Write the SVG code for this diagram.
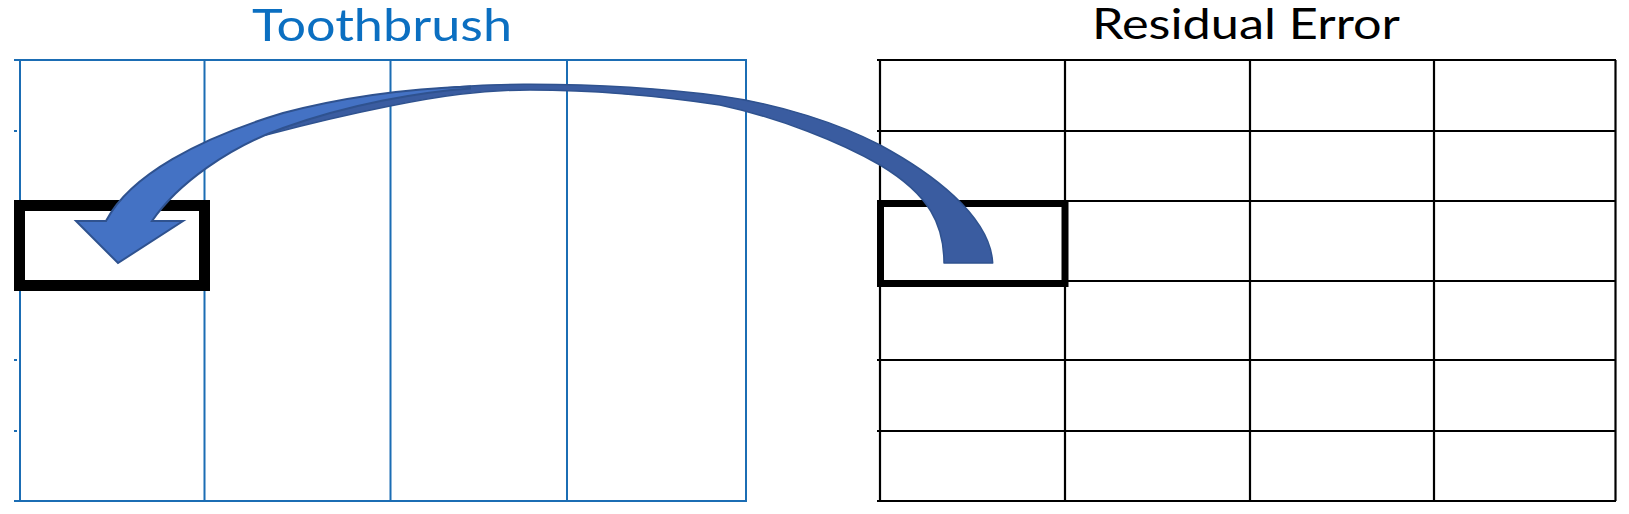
<svg xmlns="http://www.w3.org/2000/svg" width="1629" height="514" viewBox="0 0 1629 514">
  <style>
    .bl { stroke: #1B6DB4; stroke-width: 2; fill: none; }
    .bk { stroke: #000000; stroke-width: 2.2; fill: none; }
    .hl { fill: none; stroke: #000000; }
    .title { font-family: Lato, "Open Sans", "Liberation Sans", sans-serif; text-anchor: middle; }
  </style>
  <rect width="1629" height="514" fill="#ffffff"/>

  <g id="toothbrush">
    <text class="title" x="382" y="41" font-size="45" fill="#0B6FC1" textLength="260" lengthAdjust="spacingAndGlyphs">Toothbrush</text>
    <g class="bl">
      <line x1="14" y1="60" x2="747" y2="60"/>
      <line x1="14" y1="501" x2="747" y2="501"/>
      <line x1="20" y1="60" x2="20" y2="501"/>
      <line x1="204.5" y1="60" x2="204.5" y2="501"/>
      <line x1="390.5" y1="60" x2="390.5" y2="501"/>
      <line x1="567" y1="60" x2="567" y2="501"/>
      <line x1="746" y1="60" x2="746" y2="501"/>
      <line x1="14" y1="131" x2="17" y2="131"/>
      <line x1="14" y1="360" x2="17" y2="360"/>
      <line x1="14" y1="431" x2="17" y2="431"/>
    </g>
  </g>

  <g id="residual-error">
    <text class="title" x="1246" y="39" font-size="42" fill="#000000" textLength="308" lengthAdjust="spacingAndGlyphs">Residual Error</text>
    <g class="bk">
      <line x1="877" y1="60" x2="1616" y2="60"/>
      <line x1="877" y1="131" x2="1616" y2="131"/>
      <line x1="877" y1="201" x2="1616" y2="201"/>
      <line x1="877" y1="281" x2="1616" y2="281"/>
      <line x1="877" y1="360" x2="1616" y2="360"/>
      <line x1="877" y1="431" x2="1616" y2="431"/>
      <line x1="877" y1="501" x2="1616" y2="501"/>
      <line x1="880" y1="60" x2="880" y2="501"/>
      <line x1="1065" y1="60" x2="1065" y2="501"/>
      <line x1="1250" y1="60" x2="1250" y2="501"/>
      <line x1="1434" y1="60" x2="1434" y2="501"/>
      <line x1="1615.5" y1="60" x2="1615.5" y2="501"/>
    </g>
  </g>

  <g id="toothbrush-cell">
    <rect class="hl" x="19.5" y="205.5" width="185" height="80" stroke-width="11"/>
  </g>
  <g id="residual-cell">
    <rect class="hl" x="880.5" y="203.5" width="184.5" height="80" stroke-width="7"/>
  </g>

  <g id="connectors">
    <path d="M 400 93 C 450 86, 490 84, 530 84.3 C 600 84.5, 660 88, 720 96 C 780 104, 840 124, 880 145 C 930 172, 990 215, 992.7 263 L 944 263 C 944 225, 930 195, 880 165 C 840 142, 780 118, 720 105 C 660 96, 590 90, 530 90 C 480 90, 440 96, 390 106 C 340 116, 300 126, 266 135 L 283 122 Z" fill="#3A5CA0" stroke="#2F528F" stroke-width="1.5" stroke-linejoin="round"/>
    <path d="M 76 221 L 106 221 C 130 175, 200 138, 283 113 C 340 98, 400 89, 470 86.5 L 470 88.5 C 420 92, 350 104, 283 128 C 230 147, 178 183, 152 221 L 183 221 L 118 263 Z" fill="#4472C4" stroke="#2F528F" stroke-width="2" stroke-linejoin="miter"/>
  </g>
</svg>
